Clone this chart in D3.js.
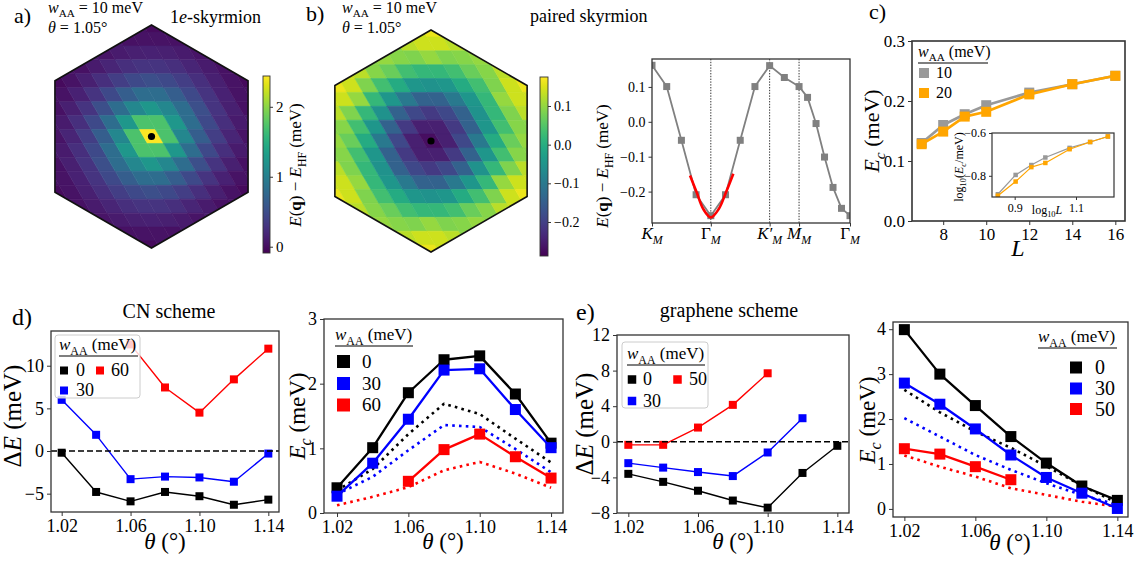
<!DOCTYPE html>
<html><head><meta charset="utf-8">
<script src="https://cdn.jsdelivr.net/npm/d3@7"></script>
<style>
body{margin:0;background:#fff}
svg, svg text{font-family:"Liberation Serif","DejaVu Serif",serif}
</style></head>
<body><svg id="fig" width="1142" height="568" font-family="Liberation Serif, DejaVu Serif, serif"></svg>
<script>
// ---------- data ----------
// momentum-grid shells (|q|^2 in grid units) and energies for the two heat maps
const gridL = 12;
const shellNorm = [0, 1, 3, 4, 7, 9, 12, 13, 16, 19, 21, 25, 27, 28, 31, 36, 37, 39, 48];
const skyrmionE = [2.44, 1.72, 1.25, 1.08, 0.8, 0.66, 0.52, 0.47, 0.37, 0.29, 0.25, 0.17, 0.14, 0.13, 0.09, 0.04, 0.03, 0.02, -0.03];
const pairedE = [-0.27, -0.248, -0.209, -0.188, -0.145, -0.1, -0.053, -0.045, -0.005, 0.02, 0.035, 0.07, 0.101, 0.085, 0.09, 0.101, 0.14, 0.127, 0.162];

// band along K - Gamma - K' - M - Gamma
const bandX = [0, 1.732, 3.464, 5.196, 6.928, 8.66, 10.392, 12.124, 13.856, 15.588, 17.321, 18.321, 19.321, 20.321, 21.321, 22.321, 23.321];
const bandE = [0.162, 0.101, -0.053, -0.209, -0.269, -0.209, -0.053, 0.101, 0.161, 0.127, 0.101, 0.07, -0.005, -0.101, -0.188, -0.248, -0.269];
const bandTickX = [0, 6.928, 13.856, 17.321, 23.321];
const fitX = [4.48, 5.26, 6.04, 6.93, 7.86, 8.72, 9.58];
const fitE = [-0.154, -0.202, -0.25, -0.274, -0.25, -0.202, -0.149];

// panel c
const sizeL = [7, 8, 9, 10, 12, 14, 16];
const ecL10 = [0.13, 0.16, 0.178, 0.193, 0.214, 0.228, 0.242];
const ecL20 = [0.128, 0.149, 0.174, 0.182, 0.211, 0.228, 0.242];

// panels d, e
const theta = [1.02, 1.04, 1.06, 1.08, 1.10, 1.12, 1.14];
const dECN0 = [-0.2, -4.8, -5.9, -4.8, -5.3, -6.3, -5.7];
const dECN30 = [6.0, 1.9, -3.3, -3.0, -3.1, -3.6, -0.3];
const dECN60 = [null, null, 12.5, 7.45, 4.5, 8.4, 12.0];
const ecCN0 = [0.39, 1.01, 1.86, 2.37, 2.43, 1.84, 1.08];
const ecCN30 = [0.26, 0.77, 1.45, 2.21, 2.23, 1.6, 1.01];
const ecCN60 = [null, null, 0.49, 0.98, 1.22, 0.87, 0.54];
const ecCN0dot = [0.35, 0.68, 1.22, 1.69, 1.53, 1.15, 0.78];
const ecCN30dot = [0.29, 0.56, 0.97, 1.36, 1.33, 0.99, 0.63];
const ecCN60dot = [0.12, 0.25, 0.4, 0.66, 0.79, 0.61, 0.39];
const dEGR0 = [-3.6, -4.5, -5.5, -6.6, -7.4, -3.5, -0.45];
const dEGR30 = [-2.4, -2.9, -3.4, -3.85, -1.2, 2.65, null];
const dEGR50 = [-0.34, -0.34, 1.6, 4.15, 7.7, null, null];
const ecGR0 = [3.99, 3.0, 2.3, 1.61, 1.02, 0.51, 0.19];
const ecGR30 = [2.8, 2.33, 1.78, 1.2, 0.7, 0.35, 0.01];
const ecGR50 = [1.34, 1.22, 0.94, 0.65, null, null, null];
const ecGR0dot = [2.65, 2.15, 1.72, 1.36, 0.95, 0.52, 0.13];
const ecGR30dot = [2.02, 1.61, 1.2, 0.87, 0.57, 0.31, 0.09];
const ecGR50dot = [1.19, 0.94, 0.72, 0.46, 0.31, 0.16, 0.05];

// ---------- helpers ----------
const svg = d3.select("#fig");
const defs = svg.append("defs");
const serif = "Liberation Serif, DejaVu Serif, serif";
const wTitle = [["w", "i"], ["AA", "s"], [" (meV)"]];
const fmt2 = d3.format(".2f"), fmt1 = d3.format(".1f"), fmt0 = d3.format("d");

function mtext(g, x, y, parts, size, opts = {}) {
  const t = g.append("text").attr("font-size", size).attr("fill", "#000")
    .attr("font-family", serif).attr("text-anchor", opts.anchor || "start");
  if (opts.rot) t.attr("transform", `translate(${x},${y}) rotate(${opts.rot})`);
  else t.attr("x", x).attr("y", y);
  let shift = 0;
  parts.forEach(([s, st = ""]) => {
    const sp = t.append("tspan").text(s);
    const sub = st.includes("s");
    const want = sub ? size * 0.28 : 0;
    if (want !== shift) { sp.attr("dy", want - shift); shift = want; }
    if (sub) sp.attr("font-size", size * 0.7);
    if (st.includes("i")) sp.attr("font-style", "italic");
    if (st.includes("b")) sp.attr("font-weight", "bold");
  });
  return t;
}

function styleAxis(a, fs) {
  a.attr("font-size", fs).attr("font-family", serif);
  a.select(".domain").remove();
  a.selectAll(".tick line").attr("stroke", "#333");
  a.selectAll(".tick text").attr("fill", "#000").attr("font-family", serif);
}

function drawAxes(g, x, y, xt, yt, fx, fy, fs, tl = 4) {
  const [yb] = y.range(), [x0] = x.range();
  styleAxis(g.append("g").attr("transform", `translate(0,${yb})`)
    .call(d3.axisBottom(x).tickValues(xt).tickFormat(fx).tickSize(tl).tickPadding(3)), fs);
  styleAxis(g.append("g").attr("transform", `translate(${x0},0)`)
    .call(d3.axisLeft(y).tickValues(yt).tickFormat(fy).tickSize(tl).tickPadding(3)), fs);
}

function frame(g, x, y, w = 1.3) {
  const [x0, x1] = x.range(), [yb, yt] = y.range();
  g.append("rect").attr("x", x0).attr("y", yt).attr("width", x1 - x0).attr("height", yb - yt)
    .attr("fill", "none").attr("stroke", "#333").attr("stroke-width", w);
}

let clipN = 0;
function clipped(g, x, y) {
  const id = "clip" + (clipN++);
  const [x0, x1] = x.range(), [yb, yt] = y.range();
  defs.append("clipPath").attr("id", id).append("rect")
    .attr("x", x0).attr("y", yt).attr("width", x1 - x0).attr("height", yb - yt);
  return g.append("g").attr("clip-path", `url(#${id})`);
}

function series(g, x, y, xs, ys, color, lw, ms, dotted) {
  const pts = xs.map((v, i) => [v, ys[i]]).filter(p => p[1] != null);
  g.append("path").attr("d", d3.line().x(p => x(p[0])).y(p => y(p[1]))(pts))
    .attr("fill", "none").attr("stroke", color).attr("stroke-width", lw)
    .attr("stroke-linejoin", "round")
    .attr("stroke-dasharray", dotted ? "2.6,4.2" : null);
  if (ms) g.append("g").selectAll("rect").data(pts).join("rect")
    .attr("x", p => x(p[0]) - ms / 2).attr("y", p => y(p[1]) - ms / 2)
    .attr("width", ms).attr("height", ms).attr("fill", color);
}

function legendBox(g, x, y, w, h) {
  g.append("rect").attr("x", x).attr("y", y).attr("width", w).attr("height", h).attr("rx", 3)
    .attr("fill", "#fff").attr("fill-opacity", 0.8).attr("stroke", "#ccc").attr("stroke-width", 1);
}
function legendTitle(g, x, y, w, size) {
  mtext(g, x, y, wTitle, size);
  g.append("line").attr("x1", x).attr("x2", x + w).attr("y1", y + 6).attr("y2", y + 6)
    .attr("stroke", "#000").attr("stroke-width", 1.2);
}
function legendItem(g, cx, cy, ms, color, label, tx, size) {
  g.append("rect").attr("x", cx - ms / 2).attr("y", cy - ms / 2).attr("width", ms).attr("height", ms).attr("fill", color);
  mtext(g, tx, cy + size * 0.33, [[label]], size);
}

function heatmap(id, cx, cy, R, vals, color) {
  const ap = R * Math.sqrt(3) / 2, u = 2 * ap / gridL;
  const e1 = [u, 0], e2 = [u / 2, u * Math.sqrt(3) / 2];
  const hex = d3.range(6).map(k => {
    const t = -Math.PI / 2 + k * Math.PI / 3;
    return [cx + R * Math.cos(t), cy + R * Math.sin(t)];
  });
  defs.append("clipPath").attr("id", id).append("polygon").attr("points", hex.join(" "));
  const cells = [];
  for (let i = -12; i <= 12; i++) for (let j = -12; j <= 12; j++) {
    const px = cx + i * e1[0] + j * e2[0], py = cy + j * e2[1];
    if (Math.hypot(px - cx, py - cy) > R + u) continue;
    let n = Infinity;
    for (let a = -2; a <= 2; a++) for (let b = -2; b <= 2; b++) {
      const ii = i + a * gridL, jj = j + b * gridL;
      n = Math.min(n, ii * ii + ii * jj + jj * jj);
    }
    let k = shellNorm.indexOf(n);
    if (k < 0) k = d3.minIndex(shellNorm, s => Math.abs(s - n));
    cells.push({ px, py, v: vals[k] });
  }
  const g = svg.append("g").attr("clip-path", `url(#${id})`);
  g.selectAll("path").data(cells).join("path")
    .attr("d", d => "M" + [[-.5, -.5], [.5, -.5], [.5, .5], [-.5, .5]]
      .map(([a, b]) => [d.px + a * e1[0] + b * e2[0], d.py + b * e2[1]]).join("L") + "Z")
    .attr("fill", d => color(d.v)).attr("stroke", d => color(d.v)).attr("stroke-width", 0.6);
  svg.append("polygon").attr("points", hex.join(" ")).attr("fill", "none")
    .attr("stroke", "#111").attr("stroke-width", 1.6);
  svg.append("circle").attr("cx", cx).attr("cy", cy).attr("r", 3.6).attr("fill", "#000");
}

function colorbar(id, x0, y0, w, h, color, ticks, fmt, fs) {
  const [lo, hi] = color.domain();
  const grad = defs.append("linearGradient").attr("id", id)
    .attr("x1", 0).attr("y1", 1).attr("x2", 0).attr("y2", 0);
  d3.range(0, 1.0001, 0.05).forEach(t => grad.append("stop").attr("offset", t)
    .attr("stop-color", color(lo + t * (hi - lo))));
  svg.append("rect").attr("x", x0).attr("y", y0).attr("width", w).attr("height", h)
    .attr("fill", `url(#${id})`).attr("stroke", "#333").attr("stroke-width", 0.9);
  const s = d3.scaleLinear().domain([lo, hi]).range([y0 + h, y0]);
  styleAxis(svg.append("g").attr("transform", `translate(${x0 + w},0)`)
    .call(d3.axisRight(s).tickValues(ticks).tickFormat(fmt).tickSize(3).tickPadding(3)), fs);
}

const cbLabel = [["E", "i"], ["("], ["q", "b"], [") − "], ["E", "i"], ["HF", "s"], [" (meV)"]];

// ---------- panel a ----------
{
  const color = d3.scaleSequential(d3.interpolateViridis).domain([-0.09, 2.44]);
  heatmap("hexA", 151.5, 136.5, 111.5, skyrmionE, color);
  colorbar("cbA", 263, 76, 7, 177, color, [0, 1, 2], fmt0, 15);
  mtext(svg, 301, 165, cbLabel, 17, { rot: -90, anchor: "middle" });
  mtext(svg, 14, 23, [["a)"]], 22);
  mtext(svg, 48, 13, [["w", "i"], ["AA", "s"], [" = 10 meV"]], 16);
  mtext(svg, 48, 33, [["θ", "i"], [" = 1.05°"]], 16);
  mtext(svg, 170, 23, [["1"], ["e", "i"], ["-skyrmion"]], 18);
}

// ---------- panel b ----------
{
  const color = d3.scaleSequential(d3.interpolateViridis).domain([-0.288, 0.175]);
  heatmap("hexB", 431, 141, 111, pairedE, color);
  colorbar("cbB", 540, 77, 8, 179, color, [-0.2, -0.1, 0, 0.1], fmt1, 14);
  mtext(svg, 608, 166, cbLabel, 17, { rot: -90, anchor: "middle" });
  mtext(svg, 306, 21, [["b)"]], 22);
  mtext(svg, 342, 13, [["w", "i"], ["AA", "s"], [" = 10 meV"]], 16);
  mtext(svg, 342, 33, [["θ", "i"], [" = 1.05°"]], 16);
  mtext(svg, 530, 22, [["paired skyrmion"]], 18);

  const g = svg.append("g");
  const x = d3.scaleLinear().domain([0, bandX[bandX.length - 1]]).range([652, 850]);
  const y = d3.scaleLinear().domain([-0.29, 0.18]).range([223, 59]);
  drawAxes(g, x, y, bandTickX, [-0.2, -0.1, 0, 0.1], () => "", fmt1, 14, 3.5);
  const labs = [[["K", "i"], ["M", "si"]], [["Γ"], ["M", "si"]], [["K′", "i"], ["M", "si"]],
                [["M", "i"], ["M", "si"]], [["Γ"], ["M", "si"]]];
  bandTickX.forEach((t, i) => mtext(g, x(t), 239, labs[i], 17, { anchor: "middle" }));
  const body = clipped(g, x, y);
  bandTickX.slice(1, 4).forEach(t => body.append("line").attr("x1", x(t)).attr("x2", x(t))
    .attr("y1", 59).attr("y2", 223).attr("stroke", "#000").attr("stroke-width", 0.8)
    .attr("stroke-dasharray", "1.4,1.4"));
  series(body, x, y, bandX, bandE, "#808080", 1.8, 7);
  body.append("path").attr("d", d3.line().curve(d3.curveCatmullRom)
      .x((d, i) => x(fitX[i])).y(d => y(d))(fitE))
    .attr("fill", "none").attr("stroke", "#ff0000").attr("stroke-width", 2.6);
  frame(g, x, y);
}

// ---------- panel c ----------
{
  const g = svg.append("g");
  const x = d3.scaleLinear().domain([6.55, 16.45]).range([912, 1125]);
  const y = d3.scaleLinear().domain([0, 0.3]).range([221, 41]);
  drawAxes(g, x, y, [8, 10, 12, 14, 16], [0, 0.1, 0.2, 0.3], fmt0, fmt1, 17);
  const body = clipped(g, x, y);
  series(body, x, y, sizeL, ecL10, "#999999", 2.7, 10);
  series(body, x, y, sizeL, ecL20, "#ffa500", 2.7, 10);
  frame(g, x, y, 1.6);
  mtext(g, 879, 131, [["E", "i"], ["c", "si"], [" (meV)"]], 22, { rot: -90, anchor: "middle" });
  mtext(g, 1018, 256, [["L", "i"]], 24, { anchor: "middle" });
  mtext(svg, 869, 19, [["c)"]], 22);
  legendTitle(g, 918, 57, 70, 16);
  legendItem(g, 924, 73, 10, "#999999", "10", 936, 16);
  legendItem(g, 924, 93, 10, "#ffa500", "20", 936, 16);

  // inset
  const ix = d3.scaleLinear().domain([0.826, 1.224]).range([992, 1114]);
  const iy = d3.scaleLinear().domain([-0.899, -0.6]).range([197, 133]);
  g.append("rect").attr("x", 992).attr("y", 133).attr("width", 122).attr("height", 64).attr("fill", "#fff");
  drawAxes(g, ix, iy, [0.9, 1.1], [-0.8, -0.6], fmt1, fmt1, 12, 3);
  const ib = clipped(g, ix, iy);
  const logL = sizeL.map(Math.log10);
  series(ib, ix, iy, logL, ecL10.map(Math.log10), "#999999", 1.2, 4.5);
  series(ib, ix, iy, logL, ecL20.map(Math.log10), "#ffa500", 1.2, 4.5);
  frame(g, ix, iy, 1.2);
  mtext(g, 963, 167, [["log"], ["10", "s"], ["("], ["E", "i"], ["c", "si"], ["/meV)"]], 12, { rot: -90, anchor: "middle" });
  mtext(g, 1047, 214, [["log"], ["10", "s"], ["L", "i"]], 12, { anchor: "middle" });
}

// ---------- panel d ----------
{
  const g = svg.append("g");
  const x = d3.scaleLinear().domain([1.0138, 1.1462]).range([51, 279]);
  const y = d3.scaleLinear().domain([-7.15, 14.07]).range([512, 331]);
  drawAxes(g, x, y, [1.02, 1.06, 1.10, 1.14], [-5, 0, 5, 10], fmt2, fmt0, 18);
  const body = clipped(g, x, y);
  series(body, x, y, theta, dECN0, "#000", 1.4, 8);
  series(body, x, y, theta, dECN30, "#0000ff", 1.4, 8);
  series(body, x, y, theta, dECN60, "#ff0000", 1.4, 8);
  body.append("line").attr("x1", 51).attr("x2", 279).attr("y1", y(0)).attr("y2", y(0))
    .attr("stroke", "#000").attr("stroke-width", 1.6).attr("stroke-dasharray", "6,3");
  frame(g, x, y);
  mtext(g, 21, 416, [["Δ"], ["E", "i"], [" (meV)"]], 25, { rot: -90, anchor: "middle" });
  mtext(g, 165, 549, [["θ", "i"], [" (°)"]], 23, { anchor: "middle" });
  mtext(svg, 12, 325, [["d)"]], 24);
  mtext(svg, 169, 318, [["CN scheme"]], 20, { anchor: "middle" });
  legendBox(g, 55, 335, 85, 63);
  legendTitle(g, 59, 350, 79, 17);
  legendItem(g, 64, 370.5, 8, "#000", "0", 76, 18);
  legendItem(g, 100, 370.5, 8, "#ff0000", "60", 111, 18);
  legendItem(g, 64, 390.5, 8, "#0000ff", "30", 76, 18);
}
{
  const g = svg.append("g");
  const x = d3.scaleLinear().domain([1.0127, 1.1467]).range([324, 563]);
  const y = d3.scaleLinear().domain([0, 3]).range([513, 319]);
  drawAxes(g, x, y, [1.02, 1.06, 1.10, 1.14], [0, 1, 2, 3], fmt2, fmt0, 18);
  const body = clipped(g, x, y);
  series(body, x, y, theta, ecCN0dot, "#000", 2.6, 0, true);
  series(body, x, y, theta, ecCN30dot, "#0000ff", 2.6, 0, true);
  series(body, x, y, theta, ecCN60dot, "#ff0000", 2.6, 0, true);
  series(body, x, y, theta, ecCN0, "#000", 2.3, 11);
  series(body, x, y, theta, ecCN30, "#0000ff", 2.3, 11);
  series(body, x, y, theta, ecCN60, "#ff0000", 2.3, 11);
  frame(g, x, y);
  mtext(g, 305, 416, [["E", "i"], ["c", "si"], [" (meV)"]], 23, { rot: -90, anchor: "middle" });
  mtext(g, 443, 549, [["θ", "i"], [" (°)"]], 23, { anchor: "middle" });
  legendTitle(g, 335, 340, 78, 17);
  legendItem(g, 343.5, 361.5, 13, "#000", "0", 362, 19);
  legendItem(g, 343.5, 383.5, 13, "#0000ff", "30", 362, 19);
  legendItem(g, 343.5, 405, 13, "#ff0000", "60", 362, 19);
}

// ---------- panel e ----------
{
  const g = svg.append("g");
  const x = d3.scaleLinear().domain([1.0135, 1.1467]).range([617, 849]);
  const y = d3.scaleLinear().domain([-8, 12]).range([513, 335]);
  drawAxes(g, x, y, [1.02, 1.06, 1.10, 1.14], [-8, -4, 0, 4, 8, 12], fmt2, fmt0, 18);
  const body = clipped(g, x, y);
  series(body, x, y, theta, dEGR0, "#000", 1.4, 8);
  series(body, x, y, theta, dEGR30, "#0000ff", 1.4, 8);
  series(body, x, y, theta, dEGR50, "#ff0000", 1.4, 8);
  body.append("line").attr("x1", 617).attr("x2", 849).attr("y1", y(0)).attr("y2", y(0))
    .attr("stroke", "#000").attr("stroke-width", 1.6).attr("stroke-dasharray", "6,3");
  frame(g, x, y);
  mtext(g, 593, 424, [["Δ"], ["E", "i"], [" (meV)"]], 25, { rot: -90, anchor: "middle" });
  mtext(g, 733, 549, [["θ", "i"], [" (°)"]], 23, { anchor: "middle" });
  mtext(svg, 576, 320, [["e)"]], 24);
  mtext(svg, 729, 317, [["graphene scheme"]], 20, { anchor: "middle" });
  legendBox(g, 622, 342, 86, 66);
  legendTitle(g, 627, 359, 78, 17);
  legendItem(g, 632, 379.5, 8.5, "#000", "0", 643, 18);
  legendItem(g, 677.5, 379.5, 8.5, "#ff0000", "50", 689, 18);
  legendItem(g, 632, 401, 8.5, "#0000ff", "30", 643, 18);
}
{
  const g = svg.append("g");
  const x = d3.scaleLinear().domain([1.0136, 1.146]).range([893, 1128]);
  const y = d3.scaleLinear().domain([-0.18, 4.16]).range([517, 322]);
  drawAxes(g, x, y, [1.02, 1.06, 1.10, 1.14], [0, 1, 2, 3, 4], fmt2, fmt0, 18);
  const body = clipped(g, x, y);
  series(body, x, y, theta, ecGR0dot, "#000", 2.6, 0, true);
  series(body, x, y, theta, ecGR30dot, "#0000ff", 2.6, 0, true);
  series(body, x, y, theta, ecGR50dot, "#ff0000", 2.6, 0, true);
  series(body, x, y, theta, ecGR0, "#000", 2.3, 11);
  series(body, x, y, theta, ecGR30, "#0000ff", 2.3, 11);
  series(body, x, y, theta, ecGR50, "#ff0000", 2.3, 11);
  frame(g, x, y);
  mtext(g, 875, 420, [["E", "i"], ["c", "si"], [" (meV)"]], 23, { rot: -90, anchor: "middle" });
  mtext(g, 1010, 550, [["θ", "i"], [" (°)"]], 23, { anchor: "middle" });
  legendTitle(g, 1038, 342, 79, 17);
  legendItem(g, 1076, 367.5, 12, "#000", "0", 1095, 20);
  legendItem(g, 1076, 388.5, 12, "#0000ff", "30", 1095, 20);
  legendItem(g, 1076, 409, 12, "#ff0000", "50", 1095, 20);
}
</script>
</body></html>
